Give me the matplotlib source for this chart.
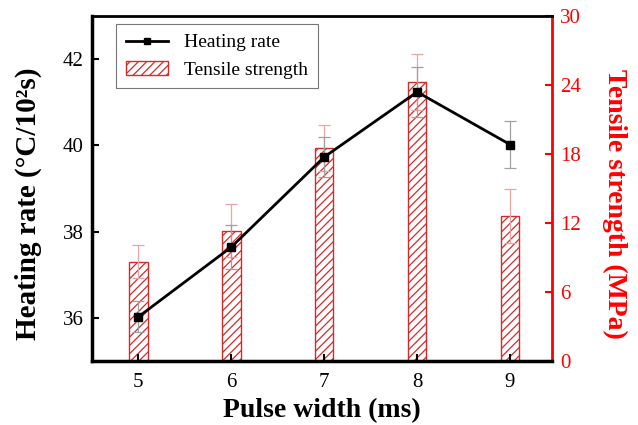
import numpy as np
import matplotlib.pyplot as plt
from matplotlib.patches import Patch
from matplotlib.lines import Line2D

plt.rcParams['font.family'] = ['Liberation Serif', 'DejaVu Serif']
plt.rcParams['hatch.linewidth'] = 0.9

pulse = [5, 6, 7, 8, 9]
heating = [36.02, 37.64, 39.73, 41.24, 40.02]
heating_err = [0.36, 0.51, 0.46, 0.57, 0.55]
tensile = [8.63, 11.34, 18.5, 24.26, 12.6]
tensile_err = [1.45, 2.3, 2.0, 2.43, 2.35]

red = '#ff0000'
bar_red = '#d42a2a'

fig = plt.figure(figsize=(6.38, 4.25), dpi=100)
ax = fig.add_axes([0.144, 0.151, 0.721, 0.811])
ax2 = ax.twinx()

# tensile bars on the right axis
ax2.bar(pulse, tensile, width=0.2, facecolor='white', edgecolor=bar_red,
        hatch='////', linewidth=1.0, zorder=2)
ax2.errorbar(pulse, tensile, yerr=tensile_err, fmt='none', ecolor='#eaa4a4',
             elinewidth=0.9, capsize=4, capthick=0.9, zorder=3)
ax2.set_ylim(0, 30)
ax2.set_yticks([0, 6, 12, 18, 24, 30])
ax2.set_ylabel('Tensile strength (MPa)', color=red, fontsize=20,
               fontweight='bold', rotation=270)
ax2.yaxis.set_label_coords(1.163, 0.455)
ax2.tick_params(axis='y', colors=red, direction='in', length=5, width=1.5,
                labelsize=15, pad=6)
ax2.spines['right'].set_color(red)
ax2.spines['right'].set_linewidth(2)
for s in ['left', 'top', 'bottom']:
    ax2.spines[s].set_visible(False)

# heating rate line on the left axis, kept above the bars
ax.set_zorder(ax2.get_zorder() + 1)
ax.patch.set_visible(False)
ax.errorbar(pulse, heating, yerr=heating_err, fmt='none', ecolor='#a0a0a0',
            elinewidth=0.9, capsize=4, capthick=0.9, zorder=2)
ax.plot(pulse, heating, color='black', linewidth=2, marker='s',
        markersize=6, zorder=3)
ax.set_xlim(4.5, 9.45)
ax.set_ylim(35, 43)
ax.set_xticks(pulse)
ax.set_yticks([36, 38, 40, 42])
ax.tick_params(direction='in', length=5, width=1.5, labelsize=15, pad=6)
ax.tick_params(axis='x', pad=9)
ax.set_xlabel('Pulse width (ms)', fontsize=20, fontweight='bold', labelpad=4)
ax.set_ylabel('Heating rate (°C/10²s)', fontsize=21, fontweight='bold')
ax.yaxis.set_label_coords(-0.109, 0.455)
ax.spines['left'].set_linewidth(2.5)
ax.spines['bottom'].set_linewidth(2.5)
ax.spines['top'].set_linewidth(2)
ax.spines['right'].set_visible(False)

handles = [
    Line2D([], [], color='black', linewidth=2, marker='s', markersize=5),
    Patch(facecolor='white', edgecolor=bar_red, hatch='////', linewidth=1.0),
]
leg = ax.legend(handles, ['Heating rate', 'Tensile strength'],
                loc='upper left', bbox_to_anchor=(0.052, 0.977),
                borderaxespad=0, fancybox=False, edgecolor='#555555',
                fontsize=14, handlelength=2.2, borderpad=0.5,
                labelspacing=0.5, handletextpad=0.8)
leg.get_frame().set_linewidth(0.8)

fig.savefig('out.png', dpi=100)
